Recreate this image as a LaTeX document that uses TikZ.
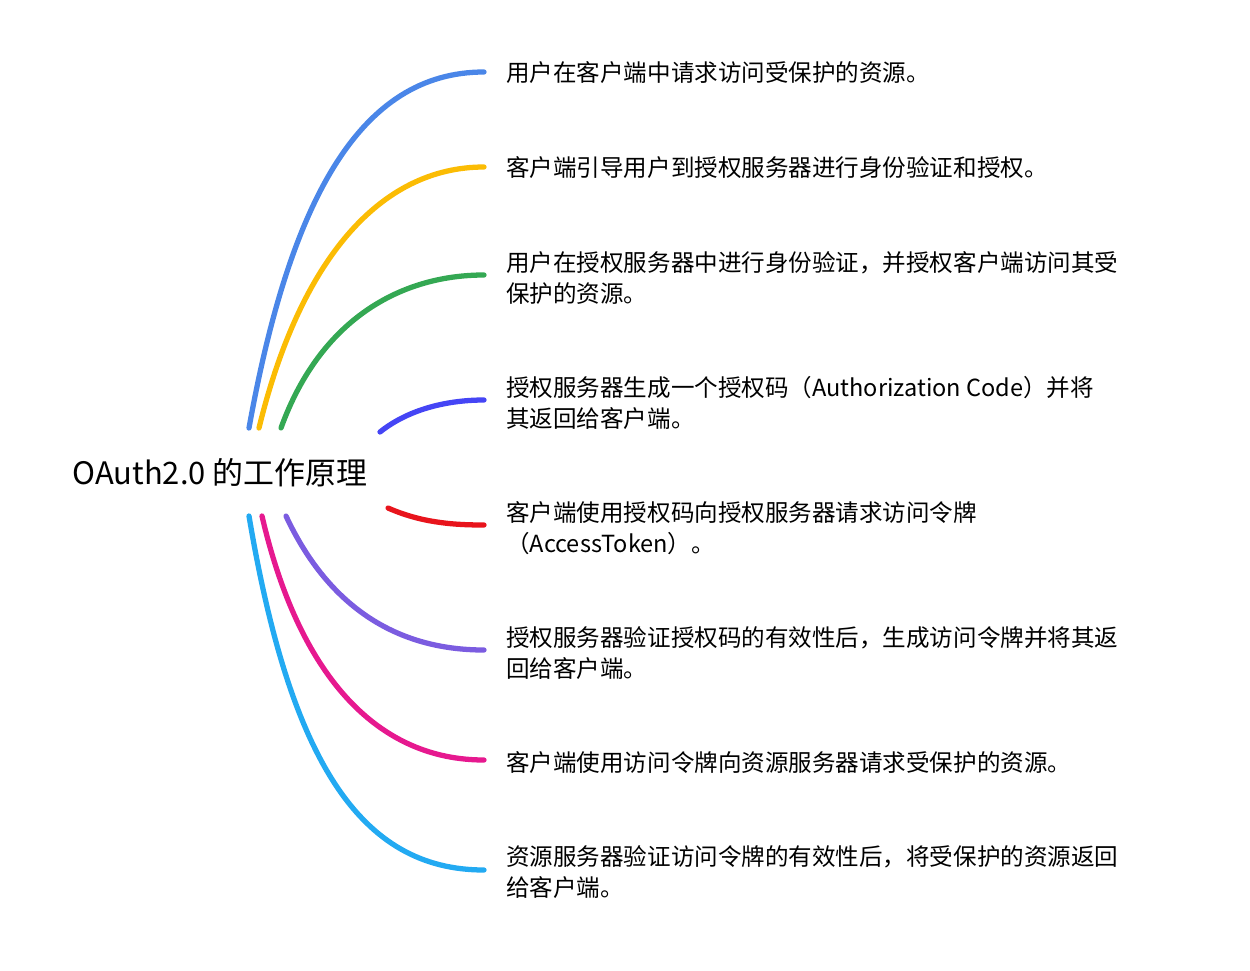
\documentclass[tikz,border=0pt]{standalone}
\usepackage{fontspec}
\setmainfont{Noto Sans CJK SC}
\usetikzlibrary{positioning}
\definecolor{cBlue}{HTML}{4A86E8}
\definecolor{cYellow}{HTML}{FBBC04}
\definecolor{cGreen}{HTML}{34A853}
\definecolor{cViolet}{HTML}{4545F5}
\definecolor{cRed}{HTML}{E8141C}
\definecolor{cPurple}{HTML}{7B5CE0}
\definecolor{cPink}{HTML}{E6198F}
\definecolor{cSky}{HTML}{23AAF2}
\tikzset{
    stepnode/.style={anchor=west, align=left, font=\fontsize{13.4}{17.5}\selectfont},
    branch/.style={line width=3pt, line cap=round},
}
\begin{document}
\begin{tikzpicture}[x=0.02cm, y=-0.02cm]
    \useasboundingbox (0,0) rectangle (1250,970);

    % Root
    \node (root) at (220,473) {\fontsize{17.6}{20}\selectfont OAuth2.0 的工作原理};

    % Steps
    \node[stepnode] (s1) at (500,73)  {用户在客户端中请求访问受保护的资源。};
    \node[stepnode] (s2) at (500,168) {客户端引导用户到授权服务器进行身份验证和授权。};
    \node[stepnode] (s3) at (500,278) {用户在授权服务器中进行身份验证，并授权客户端访问其受\\保护的资源。};
    \node[stepnode] (s4) at (500,403) {授权服务器生成一个授权码（Authorization Code）并将\\其返回给客户端。};
    \node[stepnode] (s5) at (500,528) {客户端使用授权码向授权服务器请求访问令牌\\（AccessToken）。};
    \node[stepnode] (s6) at (500,653) {授权服务器验证授权码的有效性后，生成访问令牌并将其返\\回给客户端。};
    \node[stepnode] (s7) at (500,763) {客户端使用访问令牌向资源服务器请求受保护的资源。};
    \node[stepnode] (s8) at (500,872) {资源服务器验证访问令牌的有效性后，将受保护的资源返回\\给客户端。};

    % Branch ends
    \coordinate (b1) at (249,428);
    \coordinate (b2) at (259,428);
    \coordinate (b3) at (281,428);
    \coordinate (b4) at (380,432);
    \coordinate (b5) at (388,508);
    \coordinate (b6) at (286,516);
    \coordinate (b7) at (262,516);
    \coordinate (b8) at (249,516);
    \coordinate (e1) at (484,72);
    \coordinate (e2) at (484,167);
    \coordinate (e3) at (484,275);
    \coordinate (e4) at (484,400);
    \coordinate (e5) at (484,525);
    \coordinate (e6) at (484,650);
    \coordinate (e7) at (484,760);
    \coordinate (e8) at (484,870);

    % Branches
    \draw[branch, cBlue]   (b1) .. controls (290,200) and (360,72) .. (e1);
    \draw[branch, cYellow] (b2) .. controls (300,260) and (380,167) .. (e2);
    \draw[branch, cGreen]  (b3) .. controls (320,320) and (400,275) .. (e3);
    \draw[branch, cViolet] (b4) .. controls (410,408) and (450,400) .. (e4);
    \draw[branch, cRed]    (b5) .. controls (420,522) and (450,525) .. (e5);
    \draw[branch, cPurple] (b6) .. controls (330,610) and (400,650) .. (e6);
    \draw[branch, cPink]   (b7) .. controls (300,680) and (380,760) .. (e7);
    \draw[branch, cSky]    (b8) .. controls (290,760) and (360,870) .. (e8);

\end{tikzpicture}
\end{document}
